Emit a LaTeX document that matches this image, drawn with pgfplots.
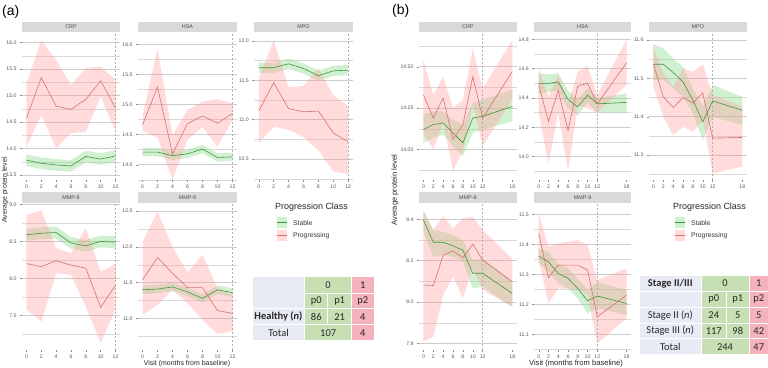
\documentclass[border=0pt]{standalone}
\usepackage{pgfplots}
\pgfplotsset{compat=1.18}
\usepackage{fontspec}
\setmainfont{Liberation Sans}
\newfontfamily\carlito{Carlito}
\definecolor{gline}{RGB}{60,150,60}
\definecolor{rline}{RGB}{214,112,112}
\definecolor{gfillc}{RGB}{140,217,140}
\definecolor{rfillc}{RGB}{255,153,153}
\definecolor{gkey}{RGB}{209,240,209}
\definecolor{rkey}{RGB}{255,219,219}
\definecolor{stripgray}{RGB}{217,217,217}
\definecolor{tgreen}{RGB}{198,224,180}
\definecolor{tred}{RGB}{245,178,188}
\definecolor{tlav}{RGB}{232,234,244}
\definecolor{ttext}{RGB}{40,40,40}
\definecolor{vgray}{RGB}{175,175,175}
\tikzset{vdash/.style={vgray, dash pattern=on 2bp off 2bp, line width=0.35bp}}
\pgfplotsset{
  panel/.style={scale only axis, anchor=south west,
    axis line style={draw=none}, tick align=outside, tick pos=left,
    major tick length=2bp, minor tick length=0pt,
    tick style={black!45, line width=0.4bp},
    ymajorgrids, yminorgrids,
    major grid style={black!20, line width=0.5bp},
    minor grid style={black!15, line width=0.4bp},
    ticklabel style={font=\fontsize{5.2}{6}\selectfont, text=black!65},
    xticklabel style={yshift=1bp},
    /pgf/number format/assume math mode=true,
    yticklabel style={/pgf/number format/.cd, fixed, fixed zerofill, precision=1},
    height=148bp},
  pa/.style={panel, xmin=-0.6, xmax=12.6, xtick={0,2,4,6,8,10,12}},
  pb/.style={panel, xmin=-0.9, xmax=18.9, xtick={0,2,4,6,8,10,12,18}},
  gband/.style={draw=none, fill=gfillc, fill opacity=0.4},
  rband/.style={draw=none, fill=rfillc, fill opacity=0.35},
  gl/.style={gline, line width=0.6bp, mark=none},
  rl/.style={rline, line width=0.6bp, mark=none},
}
\begin{document}
\begin{tikzpicture}
\useasboundingbox (0,0) rectangle (768bp,368bp);
% ================= (a) =================
% CRP
\begin{axis}[pa, at={(22bp,188bp)}, width=98bp, ymin=13.405, ymax=16.202,
  ytick={13.5,14,14.5,15,15.5,16}, minor ytick={13.75,14.25,14.75,15.25,15.75}]
\addplot[gband] coordinates {(0,13.89)(2,13.83)(4,13.80)(6,13.78)(8,13.96)(10,13.91)(12,13.97)(12,13.75)(10,13.69)(8,13.74)(6,13.56)(4,13.58)(2,13.61)(0,13.67)} -- cycle;
\addplot[rband] coordinates {(0,15.23)(2,16.05)(4,15.67)(6,15.20)(8,15.52)(10,15.55)(12,15.30)(12,14.32)(10,14.98)(8,14.32)(6,14.29)(4,14.00)(2,14.63)(0,14.03)} -- cycle;
\draw[vdash] (axis cs:12,13.405) -- (axis cs:12,16.202);
\addplot[gl] coordinates {(0,13.78)(2,13.72)(4,13.69)(6,13.67)(8,13.85)(10,13.80)(12,13.86)};
\addplot[rl] coordinates {(0,14.57)(2,15.34)(4,14.80)(6,14.74)(8,14.93)(10,15.28)(12,14.76)};
\end{axis}
% HSA
\begin{axis}[pa, at={(138bp,188bp)}, width=99bp, ymin=13.746, ymax=16.204,
  ytick={14,14.5,15,15.5,16}, minor ytick={13.75,14.25,14.75,15.25,15.75}]
\addplot[gband] coordinates {(0,14.28)(2,14.28)(4,14.22)(6,14.25)(8,14.33)(10,14.19)(12,14.20)(12,14.06)(10,14.05)(8,14.19)(6,14.11)(4,14.08)(2,14.14)(0,14.14)} -- cycle;
\addplot[rband] coordinates {(0,14.80)(2,15.93)(4,14.49)(6,14.91)(8,15.05)(10,15.09)(12,15.02)(12,14.74)(10,14.30)(8,14.63)(6,14.41)(4,13.75)(2,14.45)(0,14.56)} -- cycle;
\draw[vdash] (axis cs:12,13.746) -- (axis cs:12,16.204);
\addplot[gl] coordinates {(0,14.21)(2,14.21)(4,14.15)(6,14.18)(8,14.26)(10,14.12)(12,14.13)};
\addplot[rl] coordinates {(0,14.66)(2,15.29)(4,14.18)(6,14.68)(8,14.81)(10,14.69)(12,14.85)};
\end{axis}
% MPO
\begin{axis}[pa, at={(254.3bp,188bp)}, width=98.4bp, ymin=10.234, ymax=12.114,
  ytick={10.5,11,11.5,12}, minor ytick={10.25,10.75,11.25,11.75}]
\addplot[gband] coordinates {(0,11.725)(2,11.725)(4,11.775)(6,11.715)(8,11.625)(10,11.685)(12,11.695)(12,11.565)(10,11.555)(8,11.495)(6,11.585)(4,11.645)(2,11.595)(0,11.595)} -- cycle;
\addplot[rband] coordinates {(0,11.53)(2,12.01)(4,11.41)(6,11.43)(8,11.65)(10,11.31)(12,11.17)(12,10.31)(10,10.34)(8,10.61)(6,10.78)(4,10.87)(2,10.91)(0,10.70)} -- cycle;
\draw[vdash] (axis cs:12,10.234) -- (axis cs:12,12.114);
\addplot[gl] coordinates {(0,11.66)(2,11.66)(4,11.71)(6,11.65)(8,11.56)(10,11.62)(12,11.63)};
\addplot[rl] coordinates {(0,11.11)(2,11.47)(4,11.14)(6,11.10)(8,11.11)(10,10.83)(12,10.72)};
\end{axis}
% MMP-8
\begin{axis}[pa, at={(22bp,18bp)}, width=98bp, height=147bp, ymin=7.036, ymax=9.018,
  ytick={7.5,8,8.5,9}, minor ytick={7.25,7.75,8.25,8.75}]
\addplot[gband] coordinates {(0,8.67)(2,8.69)(4,8.70)(6,8.56)(8,8.52)(10,8.58)(12,8.57)(12,8.41)(10,8.42)(8,8.36)(6,8.40)(4,8.54)(2,8.53)(0,8.51)} -- cycle;
\addplot[rband] coordinates {(0,8.86)(2,8.92)(4,8.41)(6,8.34)(8,8.68)(10,8.09)(12,8.20)(12,7.58)(10,7.13)(8,7.62)(6,8.05)(4,8.07)(2,7.42)(0,7.58)} -- cycle;
\draw[vdash] (axis cs:12,7.036) -- (axis cs:12,9.018);
\addplot[gl] coordinates {(0,8.59)(2,8.61)(4,8.62)(6,8.48)(8,8.44)(10,8.50)(12,8.49)};
\addplot[rl] coordinates {(0,8.20)(2,8.16)(4,8.24)(6,8.18)(8,8.14)(10,7.61)(12,7.91)};
\end{axis}
% MMP-9
\begin{axis}[pa, at={(138bp,18bp)}, width=99bp, height=147bp, ymin=10.559, ymax=12.612,
  ytick={11,11.5,12,12.5}, minor ytick={10.75,11.25,11.75,12.25}]
\addplot[gband] coordinates {(0,11.46)(2,11.47)(4,11.50)(6,11.43)(8,11.34)(10,11.46)(12,11.42)(12,11.30)(10,11.34)(8,11.22)(6,11.31)(4,11.38)(2,11.35)(0,11.34)} -- cycle;
\addplot[rband] coordinates {(0,12.07)(2,12.49)(4,12.00)(6,11.64)(8,11.89)(10,11.42)(12,11.33)(12,10.82)(10,10.78)(8,10.98)(6,11.21)(4,11.40)(2,11.19)(0,11.05)} -- cycle;
\draw[vdash] (axis cs:12,10.559) -- (axis cs:12,12.612);
\addplot[gl] coordinates {(0,11.40)(2,11.41)(4,11.44)(6,11.37)(8,11.28)(10,11.40)(12,11.36)};
\addplot[rl] coordinates {(0,11.54)(2,11.85)(4,11.63)(6,11.43)(8,11.43)(10,11.11)(12,11.07)};
\end{axis}
% ================= (b) =================
% CRP
\begin{axis}[pb, at={(419bp,188bp)}, width=97.7bp, ymin=13.815, ymax=14.71,
  ytick={14,14.25,14.5}, minor ytick={13.875,14.125,14.375,14.625},
  yticklabel style={/pgf/number format/.cd, fixed, fixed zerofill, precision=2}]
\addplot[gband] coordinates {(0,14.21)(2,14.23)(4,14.23)(6,14.18)(8,14.15)(10,14.28)(12,14.30)(18,14.36)(18,14.17)(12,14.12)(10,14.10)(8,13.96)(6,14.02)(4,14.09)(2,14.07)(0,14.04)} -- cycle;
\addplot[rband] coordinates {(0,14.54)(2,14.33)(4,14.44)(6,14.25)(8,14.30)(10,14.61)(12,14.37)(18,14.66)(18,14.30)(12,14.02)(10,14.27)(8,13.99)(6,13.87)(4,14.16)(2,14.00)(0,14.10)} -- cycle;
\draw[vdash] (axis cs:12,13.815) -- (axis cs:12,14.71);
\addplot[gl] coordinates {(0,14.12)(2,14.15)(4,14.16)(6,14.10)(8,14.04)(10,14.19)(12,14.20)(18,14.26)};
\addplot[rl] coordinates {(0,14.33)(2,14.19)(4,14.31)(6,14.06)(8,14.15)(10,14.44)(12,14.19)(18,14.47)};
\end{axis}
% HSA
\begin{axis}[pb, at={(534.3bp,188bp)}, width=96.7bp, ymin=13.841, ymax=14.85,
  ytick={14,14.2,14.4,14.6,14.8}, minor ytick={13.9,14.1,14.3,14.5,14.7}]
\addplot[gband] coordinates {(0,14.57)(2,14.56)(4,14.57)(6,14.45)(8,14.39)(10,14.47)(12,14.40)(18,14.43)(18,14.30)(12,14.30)(10,14.37)(8,14.28)(6,14.33)(4,14.45)(2,14.44)(0,14.43)} -- cycle;
\addplot[rband] coordinates {(0,14.60)(2,14.41)(4,14.56)(6,14.36)(8,14.58)(10,14.62)(12,14.42)(18,14.80)(18,14.49)(12,14.30)(10,14.33)(8,14.35)(6,13.90)(4,14.30)(2,13.95)(0,14.30)} -- cycle;
\draw[vdash] (axis cs:12,13.841) -- (axis cs:12,14.85);
\addplot[gl] coordinates {(0,14.50)(2,14.50)(4,14.51)(6,14.39)(8,14.34)(10,14.42)(12,14.36)(18,14.37)};
\addplot[rl] coordinates {(0,14.49)(2,14.24)(4,14.45)(6,14.18)(8,14.48)(10,14.50)(12,14.36)(18,14.64)};
\end{axis}
% MPO
\begin{axis}[pb, at={(649bp,188bp)}, width=97.7bp, ymin=11.235, ymax=11.621,
  ytick={11.3,11.4,11.5,11.6}, minor ytick={11.25,11.35,11.45,11.55}]
\addplot[gband] coordinates {(0,11.590)(2,11.578)(4,11.552)(6,11.530)(8,11.474)(10,11.426)(12,11.483)(18,11.452)(18,11.378)(12,11.400)(10,11.339)(8,11.409)(6,11.452)(4,11.474)(2,11.496)(0,11.496)} -- cycle;
\addplot[rband] coordinates {(0,11.583)(2,11.513)(4,11.478)(6,11.526)(8,11.517)(10,11.537)(12,11.457)(18,11.426)(18,11.270)(12,11.252)(10,11.391)(8,11.361)(6,11.374)(4,11.352)(2,11.400)(0,11.478)} -- cycle;
\draw[vdash] (axis cs:12,11.235) -- (axis cs:12,11.621);
\addplot[gl] coordinates {(0,11.537)(2,11.537)(4,11.515)(6,11.491)(8,11.443)(10,11.387)(12,11.441)(18,11.417)};
\addplot[rl] coordinates {(0,11.537)(2,11.452)(4,11.424)(6,11.450)(8,11.436)(10,11.462)(12,11.344)(18,11.346)};
\end{axis}
% MMP-8
\begin{axis}[pb, at={(419bp,18bp)}, width=97.7bp, height=147bp, ymin=7.768, ymax=8.479,
  ytick={7.8,8,8.2,8.4}, minor ytick={7.9,8.1,8.3}]
\addplot[gband] coordinates {(0,8.445)(2,8.348)(4,8.340)(6,8.324)(8,8.300)(10,8.203)(12,8.211)(18,8.100)(18,7.977)(12,8.074)(10,8.066)(8,8.195)(6,8.219)(4,8.227)(2,8.219)(0,8.340)} -- cycle;
\addplot[rband] coordinates {(0,8.437)(2,8.348)(4,8.416)(6,8.356)(8,8.405)(10,8.413)(12,8.348)(18,8.211)(18,7.977)(12,8.058)(10,8.163)(8,8.018)(6,8.122)(4,8.034)(2,7.832)(0,7.808)} -- cycle;
\draw[vdash] (axis cs:12,7.768) -- (axis cs:12,8.479);
\addplot[gl] coordinates {(0,8.397)(2,8.289)(4,8.289)(6,8.272)(8,8.250)(10,8.139)(12,8.139)(18,8.042)};
\addplot[rl] coordinates {(0,8.082)(2,8.080)(4,8.227)(6,8.247)(8,8.214)(10,8.280)(12,8.203)(18,8.098)};
\end{axis}
% MMP-9
\begin{axis}[pb, at={(534.3bp,18bp)}, width=96.7bp, height=147bp, ymin=11.048, ymax=11.538,
  ytick={11.1,11.2,11.3,11.4,11.5}, minor ytick={11.05,11.15,11.25,11.35,11.45}]
\addplot[gband] coordinates {(0,11.387)(2,11.375)(4,11.337)(6,11.320)(8,11.287)(10,11.248)(12,11.275)(18,11.248)(18,11.164)(12,11.187)(10,11.170)(8,11.220)(6,11.253)(4,11.270)(2,11.309)(0,11.337)} -- cycle;
\addplot[rband] coordinates {(0,11.503)(2,11.392)(4,11.403)(6,11.409)(8,11.414)(10,11.398)(12,11.281)(18,11.320)(18,11.153)(12,11.070)(10,11.231)(8,11.248)(6,11.253)(4,11.253)(2,11.203)(0,11.348)} -- cycle;
\draw[vdash] (axis cs:12,11.048) -- (axis cs:12,11.538);
\addplot[gl] coordinates {(0,11.361)(2,11.342)(4,11.303)(6,11.287)(8,11.253)(10,11.212)(12,11.228)(18,11.203)};
\addplot[rl] coordinates {(0,11.437)(2,11.289)(4,11.331)(6,11.331)(8,11.331)(10,11.314)(12,11.159)(18,11.231)};
\end{axis}
% ================= decorations (pixel coords, y down) =================
\begin{scope}[x=1bp, y=-1bp, yshift=368bp]
 % panel labels
 \node[font=\fontsize{14}{16}\selectfont, anchor=west, inner sep=0] at (2,12) {(a)};
 \node[font=\fontsize{14}{16}\selectfont, anchor=west, inner sep=0] at (392,11) {(b)};
 % strips
 \foreach \xa/\xb/\ya/\yb/\lab in {22/120/22/32.2/CRP, 138/237/22/32.2/HSA, 254.3/352.7/22/32.2/MPO, 22/120/192.5/202.7/MMP-8, 138/237/192.5/202.7/MMP-9,
   419/516.7/22/32.2/CRP, 534.3/631/22/32.2/HSA, 649/746.7/22/32.2/MPO, 419/516.7/192.5/202.7/MMP-8, 534.3/631/192.5/202.7/MMP-9} {
   \fill[stripgray] (\xa,\ya) rectangle (\xb,\yb);
   \node[font=\fontsize{5.4}{6}\selectfont, text=black!70, inner sep=0] at ({(\xa+\xb)/2},{(\ya+\yb)/2}) {\lab};
 }
 % axis titles
 \node[font=\fontsize{7}{8}\selectfont, text=black!85, inner sep=0] at (187,363.5) {Visit (months from baseline)};
 \node[font=\fontsize{7}{8}\selectfont, text=black!85, inner sep=0, rotate=90] at (5,190) {Average protein level};
 \node[font=\fontsize{7.6}{9}\selectfont, text=black!85, inner sep=0] at (576,363.5) {Visit (months from baseline)};
 \node[font=\fontsize{7.6}{9}\selectfont, text=black!85, inner sep=0, rotate=90] at (395,190) {Average protein level};
 % legends
 \foreach \lx in {275, 673} {
   \node[font=\fontsize{9}{10}\selectfont, text=black!85, anchor=west, inner sep=0] at (\lx,207) {Progression Class};
   \fill[gkey] (\lx+1.5,217.5) rectangle (\lx+12,228);
   \draw[gline, line width=0.6bp] (\lx+1.5,222.75) -- (\lx+12,222.75);
   \fill[rkey] (\lx+1.5,230.5) rectangle (\lx+12,241);
   \draw[rline, line width=0.6bp] (\lx+1.5,235.75) -- (\lx+12,235.75);
   \node[font=\fontsize{6.8}{8}\selectfont, text=black!80, anchor=west, inner sep=0] at (\lx+18,222.75) {Stable};
   \node[font=\fontsize{6.8}{8}\selectfont, text=black!80, anchor=west, inner sep=0] at (\lx+18,235.75) {Progressing};
 }
 % ---------- table (a) ----------
 \begin{scope}[font=\carlito\fontsize{10.5}{12}\selectfont, text=ttext]
 \fill[tlav] (252.7,277.5) rectangle (304.3,308.5);
 \fill[tlav] (252.7,309.5) rectangle (304.3,324.2);
 \fill[tlav] (252.7,325.2) rectangle (304.3,340.3);
 \fill[tgreen] (305.3,277.5) rectangle (351,292.7);
 \fill[tgreen] (305.3,293.7) rectangle (327.3,308.5);
 \fill[tgreen] (328.3,293.7) rectangle (351,308.5);
 \fill[tgreen] (305.3,309.5) rectangle (327.3,324.2);
 \fill[tgreen] (328.3,309.5) rectangle (351,324.2);
 \fill[tgreen] (305.3,325.2) rectangle (351,340.3);
 \fill[tred] (352,277.5) rectangle (373.5,292.7);
 \fill[tred] (352,293.7) rectangle (373.5,308.5);
 \fill[tred] (352,309.5) rectangle (373.5,324.2);
 \fill[tred] (352,325.2) rectangle (373.5,340.3);
 \node at (328.15,285.1) {0};
 \node at (362.75,285.1) {1};
 \node at (316.3,301.1) {p0};
 \node at (339.65,301.1) {p1};
 \node at (362.75,301.1) {p2};
 \node at (278.5,316.85) {\textbf{Healthy (\textit{n})}};
 \node at (316.3,316.85) {86};
 \node at (339.65,316.85) {21};
 \node at (362.75,316.85) {4};
 \node at (278.5,332.75) {Total};
 \node at (328.15,332.75) {107};
 \node at (362.75,332.75) {4};
 % ---------- table (b) ----------
 \fill[tlav] (640,276) rectangle (700.5,291);
 \fill[tlav] (640,292) rectangle (700.5,306.8);
 \fill[tlav] (640,307.8) rectangle (700.5,322.6);
 \fill[tlav] (640,323.6) rectangle (700.5,338.4);
 \fill[tlav] (640,339.4) rectangle (700.5,354.5);
 \fill[tgreen] (701.5,276) rectangle (748.5,291);
 \fill[tgreen] (701.5,292) rectangle (726,306.8);
 \fill[tgreen] (727,292) rectangle (748.5,306.8);
 \fill[tgreen] (701.5,307.8) rectangle (726,322.6);
 \fill[tgreen] (727,307.8) rectangle (748.5,322.6);
 \fill[tgreen] (701.5,323.6) rectangle (726,338.4);
 \fill[tgreen] (727,323.6) rectangle (748.5,338.4);
 \fill[tgreen] (701.5,339.4) rectangle (748.5,354.5);
 \fill[tred] (749.5,276) rectangle (768,291);
 \fill[tred] (749.5,292) rectangle (768,306.8);
 \fill[tred] (749.5,307.8) rectangle (768,322.6);
 \fill[tred] (749.5,323.6) rectangle (768,338.4);
 \fill[tred] (749.5,339.4) rectangle (768,354.5);
 \node at (670.25,283.5) {\textbf{Stage II/III}};
 \node at (725,283.5) {0};
 \node at (758.75,283.5) {1};
 \node at (713.75,299.4) {p0};
 \node at (737.75,299.4) {p1};
 \node at (758.75,299.4) {p2};
 \node at (670.25,315.2) {Stage II (\textit{n})};
 \node at (713.75,315.2) {24};
 \node at (737.75,315.2) {5};
 \node at (758.75,315.2) {5};
 \node at (670.25,331) {Stage III (\textit{n})};
 \node at (713.75,331) {117};
 \node at (737.75,331) {98};
 \node at (758.75,331) {42};
 \node at (670.25,347) {Total};
 \node at (725,347) {244};
 \node at (758.75,347) {47};
 \end{scope}
\end{scope}
\end{tikzpicture}
\end{document}
